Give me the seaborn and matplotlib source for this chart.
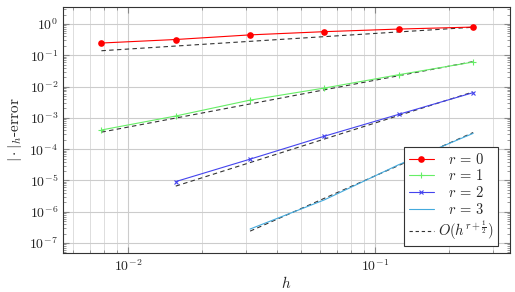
import numpy as np
import pandas as pd
import matplotlib
matplotlib.use("Agg")
import matplotlib.pyplot as plt
import seaborn as sns
from matplotlib.lines import Line2D
from matplotlib.ticker import LogLocator, NullFormatter

sns.set_style("ticks")
plt.rcParams["font.family"] = ["cmr10", "DejaVu Serif"]
plt.rcParams["mathtext.fontset"] = "cm"
plt.rcParams["axes.formatter.use_mathtext"] = True

# mesh sizes h = 1/128 ... 1/4
h_all = [1/128, 1/64, 1/32, 1/16, 1/8, 1/4]

err_r0 = [0.247, 0.32, 0.45, 0.57, 0.69, 0.80]
err_r1 = [4.1e-4, 1.15e-3, 3.7e-3, 9.0e-3, 2.4e-2, 6.1e-2]
err_r2 = [9.2e-6, 4.8e-5, 2.6e-4, 1.3e-3, 6.4e-3]
err_r3 = [2.8e-7, 2.4e-6, 3.2e-5, 3.2e-4]

# reference slopes O(h^{r+1/2}), end points of each segment
ref_r0 = [0.14, 0.79]
ref_r1 = [3.5e-4, 6.3e-2]
ref_r2 = [6.6e-6, 6.75e-3]
ref_r3 = [2.4e-7, 3.4e-4]

labels = ["$r\\,=\\,0$", "$r\\,=\\,1$", "$r\\,=\\,2$", "$r\\,=\\,3$"]
colors = ["#ff0000", "#66ee66", "#4444ee", "#44aadd"]
ref_label = r"$O(h^{r+\frac{1}{2}})$"
ref_color = "#333333"

# marker, size, edge width per series
marker_style = [("o", 4.8, 0), ("+", 4, 0.8), ("x", 3.2, 0.8), ("", 0, 0)]

fig = plt.figure(figsize=(5.15, 2.92), dpi=100)
ax = fig.add_axes([0.1223, 0.1336, 0.8677, 0.8424])

data_sets = [(h_all, err_r0), (h_all, err_r1), (h_all[1:], err_r2), (h_all[2:], err_r3)]
for (hs, errs), color, (mk, ms, mew) in zip(data_sets, colors, marker_style):
    df = pd.DataFrame({"h": hs, "err": errs})
    sns.lineplot(data=df, x="h", y="err", ax=ax, color=color, linewidth=0.8,
                 marker=mk if mk else None, markersize=ms, markeredgewidth=mew,
                 markeredgecolor=color, zorder=3, legend=False)

ref_sets = [(h_all[0], ref_r0), (h_all[0], ref_r1), (h_all[1], ref_r2), (h_all[2], ref_r3)]
for h0, vals in ref_sets:
    df = pd.DataFrame({"h": [h0, h_all[-1]], "err": vals})
    sns.lineplot(data=df, x="h", y="err", ax=ax, color=ref_color, linewidth=0.8,
                 linestyle=(0, (4, 3)), zorder=2, legend=False)

ax.set_xscale("log")
ax.set_yscale("log")
ax.set_xlim(0.00546, 0.352)
ax.set_ylim(4.8e-8, 3.5)

ax.xaxis.set_major_locator(LogLocator(base=10, numticks=10))
ax.xaxis.set_minor_locator(LogLocator(base=10, subs=np.arange(2, 10), numticks=20))
ax.xaxis.set_minor_formatter(NullFormatter())
ax.yaxis.set_major_locator(LogLocator(base=10, numticks=20))
ax.yaxis.set_minor_locator(LogLocator(base=10, subs=np.arange(2, 10), numticks=20))
ax.yaxis.set_minor_formatter(NullFormatter())

ax.grid(True, which="major", color="#cccccc", linewidth=0.8)
ax.grid(True, which="minor", axis="x", color="#dddddd", linewidth=0.7)
ax.set_axisbelow(True)
ax.tick_params(which="both", direction="in", top=True, right=True, labelsize=10,
               color="#888888")
ax.tick_params(which="major", length=4)
ax.tick_params(which="minor", length=2)
for s in ax.spines.values():
    s.set_color("#333333")
    s.set_linewidth(0.8)

ax.set_xlabel("$h$", fontsize=11, labelpad=1)
ax.set_ylabel(r"$|\cdot|_h\mathrm{\text{-}error}$", fontsize=11, labelpad=4)

handles = [
    Line2D([], [], color=c, marker=mk if mk else None, markersize=ms,
           markeredgewidth=mew, markeredgecolor=c, linewidth=0.8)
    for c, (mk, ms, mew) in zip(colors, marker_style)
]
handles.append(Line2D([], [], color=ref_color, linestyle=(0, (3, 2.5)), linewidth=0.8))
leg = ax.legend(handles, labels + [ref_label], loc="lower right",
                bbox_to_anchor=(0.973, 0.028), borderaxespad=0, fontsize=10.5,
                frameon=True, fancybox=False, edgecolor="#333333",
                handlelength=1.7, borderpad=0.3, labelspacing=0.12,
                handletextpad=0.3, framealpha=1)
leg.get_frame().set_linewidth(0.8)
for t in leg.get_texts()[:4]:
    t.set_x(10)

fig.savefig("out.png", dpi=100)
